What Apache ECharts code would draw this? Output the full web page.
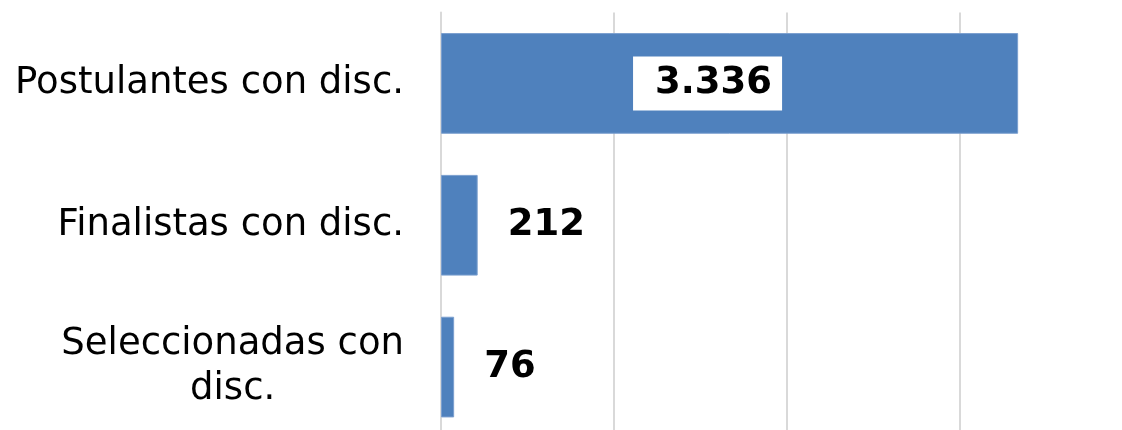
<!DOCTYPE html>
<html>
<head>
<meta charset="utf-8">
<script src="https://cdn.jsdelivr.net/npm/echarts@6/dist/echarts.min.js"></script>
<style>
html,body{margin:0;padding:0;background:#fff;overflow:hidden;width:1122px;height:430px;}
#chart{width:1133px;height:438px;}
</style>
</head>
<body>
<div id="chart"></div>
<script>
const categories = ['Postulantes con disc.', 'Finalistas con disc.', 'Seleccionadas con\ndisc.'];
const values = [3336, 212, 76];
const labelTexts = ['3.336', '212', '76'];

const chart = echarts.init(document.getElementById('chart'), null, {renderer: 'canvas'});
const FONT = 'DejaVu Sans, Verdana, sans-serif';

const seriesData = values.map((v, i) => {
  const item = {value: v};
  if (i === 0) {
    item.label = {
      position: 'inside',
      offset: [-22, 0],
      backgroundColor: '#ffffff',
      padding: [8, 10, 9, 22]
    };
  }
  return item;
});

chart.setOption({
  animation: false,
  grid: {left: 441, right: 0, top: 12.5, bottom: 0, containLabel: false},
  xAxis: {
    type: 'value',
    min: 0, max: 4000, interval: 1000,
    axisLabel: {show: false},
    axisLine: {show: false},
    axisTick: {show: false},
    splitLine: {show: true, lineStyle: {color: '#d9d9d9', width: 2}}
  },
  yAxis: {
    type: 'category',
    data: categories,
    inverse: true,
    axisLine: {show: true, lineStyle: {color: '#d9d9d9', width: 2}},
    axisTick: {show: false},
    axisLabel: {
      margin: 37,
      color: '#000',
      fontFamily: FONT,
      fontSize: 37,
      lineHeight: 45,
      formatter: function (val) {
        const lines = val.split('\n');
        if (lines.length === 1) return val;
        return lines.map(l => '{c|' + l + '}').join('\n');
      },
      rich: {
        c: {align: 'center', fontFamily: FONT, fontSize: 37, lineHeight: 45, color: '#000'}
      }
    }
  },
  series: [{
    type: 'bar',
    data: seriesData,
    barWidth: '71%',
    itemStyle: {color: '#4f81bd', borderColor: '#7b9fcf', borderWidth: 1},
    label: {
      show: true,
      position: 'right',
      distance: 30,
      color: '#000',
      fontFamily: FONT,
      fontWeight: 'bold',
      fontSize: 37,
      lineHeight: 37,
      formatter: function (p) { return labelTexts[p.dataIndex]; }
    }
  }]
});
</script>
</body>
</html>
